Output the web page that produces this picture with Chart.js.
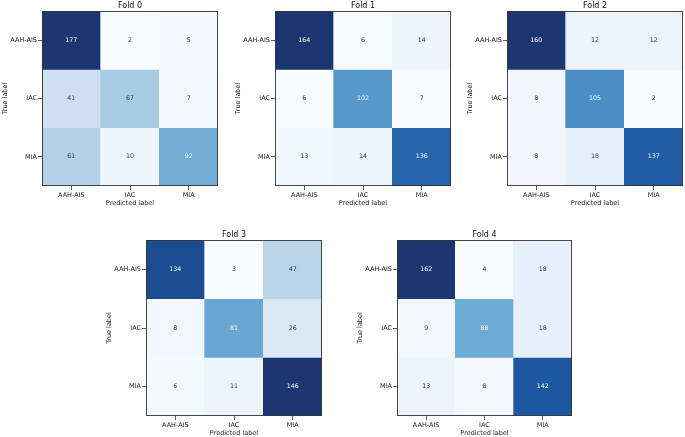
<!DOCTYPE html>
<html>
<head>
<meta charset="utf-8">
<script src="https://cdn.jsdelivr.net/npm/chart.js@4.4.1/dist/chart.umd.min.js"></script>
<style>
  html, body { margin: 0; padding: 0; background: #ffffff; }
  #wrap { position: relative; width: 685px; height: 437px; overflow: hidden; background: #fff; }
  canvas { position: absolute; }
</style>
</head>
<body>
<div id="wrap"></div>
<script>
// ---- Data ----
const predictedLabels = ['AAH-AIS', 'IAC', 'MIA'];
const trueLabels = ['AAH-AIS', 'IAC', 'MIA'];
const foldTitles = ['Fold 0', 'Fold 1', 'Fold 2', 'Fold 3', 'Fold 4'];
const fold0 = [[177, 2, 5], [41, 67, 7], [61, 10, 92]];
const fold1 = [[164, 6, 14], [6, 102, 7], [13, 14, 136]];
const fold2 = [[160, 12, 12], [8, 105, 2], [8, 18, 137]];
const fold3 = [[134, 3, 47], [8, 81, 26], [6, 11, 146]];
const fold4 = [[162, 4, 18], [9, 88, 18], [13, 8, 142]];
const foldMatrices = [fold0, fold1, fold2, fold3, fold4];

// ---- Layout (plot-area rectangles: left, top, right, bottom) ----
const plotRects = [
  [42, 11, 218, 186],
  [275, 11, 451, 186],
  [507, 11, 683, 186],
  [146, 240, 322, 416],
  [397, 240, 572, 416]
];

// matplotlib "Blues" colormap anchors
const blues = ['#f7fbff', '#deebf7', '#c6dbef', '#9ecae1', '#6baed6', '#4292c6', '#2171b5', '#08519c', '#08306b'];
function hexToRgb(h) { return [parseInt(h.slice(1, 3), 16), parseInt(h.slice(3, 5), 16), parseInt(h.slice(5, 7), 16)]; }
const bluesRgb = blues.map(hexToRgb);
const soften = [0.08, 0.03, 0.04];
function cmap(t) {
  t = Math.max(0, Math.min(1, t));
  const p = t * (bluesRgb.length - 1);
  const i = Math.min(Math.floor(p), bluesRgb.length - 2);
  const f = p - i;
  const a = bluesRgb[i], b = bluesRgb[i + 1];
  const c = a.map((v, k) => {
    const raw = v + (b[k] - v) * f;
    return Math.round(raw + soften[k] * (255 - raw));
  });
  return 'rgb(' + c.join(',') + ')';
}

const FONT = 'DejaVu Sans';
const Y_AXIS_W = 42, X_AXIS_H = 24, TOP_SPACE = 14, RIGHT_SPACE = 3;

const cellTextPlugin = {
  id: 'cellText',
  afterDatasetsDraw(chart) {
    const m = chart.options.plugins.cellText.matrix;
    const xs = chart.scales.x, ys = chart.scales.y;
    const flat = m.flat();
    const mn = Math.min(...flat), mx = Math.max(...flat);
    const thresh = (mn + mx) / 2;
    const ctx = chart.ctx;
    ctx.save();
    ctx.font = '6.3px "' + FONT + '"';
    ctx.textAlign = 'center';
    ctx.textBaseline = 'middle';
    for (let i = 0; i < m.length; i++) {
      for (let j = 0; j < m[i].length; j++) {
        const v = m[i][j];
        ctx.fillStyle = v < thresh ? cmap(1) : cmap(0);
        ctx.fillText(String(v), xs.getPixelForValue(j), ys.getPixelForValue(i));
      }
    }
    // spine
    const a = chart.chartArea;
    ctx.strokeStyle = '#333333';
    ctx.lineWidth = 0.9;
    ctx.strokeRect(a.left + 0.5, a.top + 0.5, a.right - a.left - 1, a.bottom - a.top - 1);
    ctx.restore();
  }
};

const wrap = document.getElementById('wrap');
foldMatrices.forEach((m, fi) => {
  const [l, t, r, b] = plotRects[fi];
  const W = (r - l) + Y_AXIS_W + RIGHT_SPACE;
  const H = (b - t) + TOP_SPACE + X_AXIS_H;
  const cv = document.createElement('canvas');
  cv.width = W; cv.height = H;
  cv.style.left = (l - Y_AXIS_W) + 'px';
  cv.style.top = (t - TOP_SPACE) + 'px';
  cv.style.width = W + 'px'; cv.style.height = H + 'px';
  wrap.appendChild(cv);

  const flat = m.flat();
  const mn = Math.min(...flat), mx = Math.max(...flat);
  const datasets = m.map((row, i) => ({
    label: trueLabels[i],
    data: row.map(() => [i - 0.5, i + 0.5]),
    backgroundColor: row.map(v => cmap((v - mn) / (mx - mn))),
    borderWidth: 0,
    borderSkipped: false,
    barPercentage: 1,
    categoryPercentage: 1
  }));

  const titleFont = 8;
  const titleH = titleFont * 1.2 + 0.5;

  new Chart(cv, {
    type: 'bar',
    data: { labels: predictedLabels, datasets },
    options: {
      responsive: false,
      animation: false,
      devicePixelRatio: 1,
      layout: { padding: { top: TOP_SPACE - titleH, right: RIGHT_SPACE, left: 0, bottom: 0 } },
      plugins: {
        legend: { display: false },
        tooltip: { enabled: false },
        title: {
          display: true, text: foldTitles[fi], fullSize: false,
          color: '#111', font: { family: FONT, size: titleFont, weight: 'normal' },
          padding: { top: 0, bottom: 0.5 }
        },
        cellText: { matrix: m }
      },
      scales: {
        x: {
          type: 'category', stacked: true, offset: true,
          grid: { display: true, offset: false, drawOnChartArea: false, drawTicks: true, tickLength: 4, color: '#333', lineWidth: 0.8 },
          border: { display: false },
          ticks: { color: '#222', font: { family: FONT, size: 6.5 }, padding: 1, maxRotation: 0, autoSkip: false },
          title: { display: true, text: 'Predicted label', color: '#222', font: { family: FONT, size: 6.5 }, padding: { top: 0, bottom: 3 } },
          afterFit(s) { s.height = X_AXIS_H; }
        },
        y: {
          type: 'linear', stacked: false, min: -0.5, max: 2.5, reverse: true,
          afterBuildTicks(s) { s.ticks = trueLabels.map((_, i) => ({ value: i })); },
          grid: { display: true, drawOnChartArea: false, drawTicks: true, tickLength: 4, color: '#333', lineWidth: 0.8 },
          border: { display: false },
          ticks: { color: '#222', font: { family: FONT, size: 6.5 }, padding: 1, callback: (v) => trueLabels[v] },
          title: { display: true, text: 'True label', color: '#222', font: { family: FONT, size: 6.5 }, padding: { top: 1, bottom: 0 } },
          afterFit(s) { s.width = Y_AXIS_W; }
        }
      }
    },
    plugins: [cellTextPlugin]
  });
});
</script>
</body>
</html>
